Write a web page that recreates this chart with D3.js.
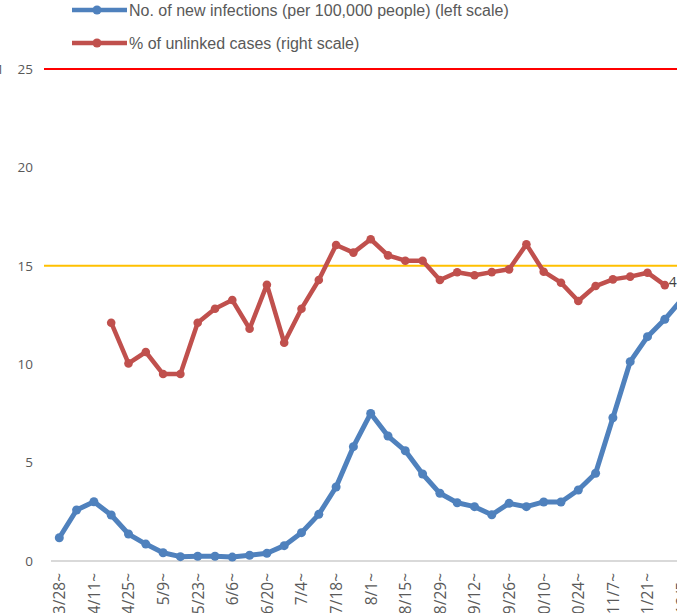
<!DOCTYPE html>
<html>
<head>
<meta charset="utf-8">
<script src="https://cdn.jsdelivr.net/npm/d3@7"></script>
<style>
  body { margin: 0; background: #fff; overflow: hidden; }
  svg { display: block; }
</style>
</head>
<body>
<div id="chart"></div>
<script>
// weekly periods (start date of each week)
const weeks = [
  "3/28", "4/4", "4/11", "4/18", "4/25", "5/2", "5/9", "5/16", "5/23", "5/30",
  "6/6", "6/13", "6/20", "6/27", "7/4", "7/11", "7/18", "7/25", "8/1", "8/8",
  "8/15", "8/22", "8/29", "9/5", "9/12", "9/19", "9/26", "10/3", "10/10", "10/17",
  "10/24", "10/31", "11/7", "11/14", "11/21", "11/28", "12/5"
];

// new infections per 100,000 people (left scale)
const newInfections = [
  1.18, 2.59, 3.01, 2.34, 1.37, 0.86, 0.42, 0.22, 0.24, 0.24,
  0.20, 0.29, 0.39, 0.78, 1.44, 2.37, 3.76, 5.81, 7.50, 6.35,
  5.60, 4.42, 3.44, 2.96, 2.76, 2.35, 2.93, 2.76, 3.00, 3.00,
  3.61, 4.46, 7.28, 10.13, 11.40, 12.28, 13.30
];

// % of unlinked cases (right scale)
const unlinked = [
  null, null, null, 12.11, 10.04, 10.62, 9.50, 9.50, 12.11, 12.82,
  13.26, 11.80, 14.04, 11.09, 12.82, 14.28, 16.06, 15.67, 16.35, 15.53,
  15.26, 15.26, 14.28, 14.67, 14.52, 14.68, 14.82, 16.09, 14.70, 14.14,
  13.21, 13.97, 14.31, 14.45, 14.65, 14.02, null
];

const yTicks = [0, 5, 10, 15, 20, 25];
const redLevel = 25;
const yellowLevel = 15;

const width = 677, height = 613;
const blue = "#4F81BD", red = "#C0504D";
const axisFont = "'Open Sans', 'Noto Sans', sans-serif";

const svg = d3.select("#chart").append("svg")
  .attr("width", width).attr("height", height);

const x = d3.scalePoint().domain(d3.range(weeks.length))
  .range([59.3, 59.3 + (weeks.length - 1) * 17.3]);
const y = d3.scaleLinear().domain([0, 25]).range([561, 69]);

// left axis labels
svg.append("g").attr("transform", "translate(33,0)")
  .call(d3.axisLeft(y).tickValues(yTicks).tickSize(0).tickPadding(0))
  .call(g => g.select(".domain").remove())
  .call(g => g.selectAll(".tick text")
    .attr("fill", "#595959").attr("font-size", 13.5).attr("font-family", axisFont));

// cut-off label fragment at the left edge
svg.append("text").attr("x", 4).attr("y", y(25)).attr("dy", "0.35em")
  .attr("text-anchor", "end").attr("fill", "#595959")
  .attr("font-size", 13.5).attr("font-family", axisFont).text("1");

// baseline
svg.append("line")
  .attr("x1", 51).attr("x2", width).attr("y1", y(0)).attr("y2", y(0))
  .attr("stroke", "#D9D9D9").attr("stroke-width", 2);

// threshold lines
svg.append("line")
  .attr("x1", 44).attr("x2", width).attr("y1", y(redLevel)).attr("y2", y(redLevel))
  .attr("stroke", "#FF0000").attr("stroke-width", 2);
svg.append("line")
  .attr("x1", 44).attr("x2", width).attr("y1", y(yellowLevel)).attr("y2", y(yellowLevel))
  .attr("stroke", "#FFC000").attr("stroke-width", 2);

// x axis labels, every other week
svg.append("g").attr("transform", `translate(0,${y(0)})`)
  .call(d3.axisBottom(x).tickValues(d3.range(0, weeks.length, 2)).tickSize(0)
    .tickFormat(i => weeks[i] + "~"))
  .call(g => g.select(".domain").remove())
  .call(g => g.selectAll(".tick text")
    .attr("transform", "rotate(-90)")
    .attr("text-anchor", "end")
    .attr("x", -12).attr("y", 0).attr("dy", "0.35em")
    .attr("fill", "#595959").attr("font-size", 15.5).attr("font-family", axisFont));

function drawSeries(values, color, lw, r) {
  const pts = values.map((v, i) => ({ i, v })).filter(d => d.v != null);
  svg.append("path").datum(pts)
    .attr("fill", "none").attr("stroke", color).attr("stroke-width", lw)
    .attr("stroke-linejoin", "round")
    .attr("d", d3.line().x(d => x(d.i)).y(d => y(d.v)));
  svg.append("g").selectAll("circle").data(pts).join("circle")
    .attr("cx", d => x(d.i)).attr("cy", d => y(d.v)).attr("r", r).attr("fill", color);
  return pts;
}

drawSeries(newInfections, blue, 5, 4.5);
const redPts = drawSeries(unlinked, red, 4.5, 4.3);

// data label of the last unlinked value (cut off)
const last = redPts[redPts.length - 1];
svg.append("text").attr("x", x(last.i) + 4).attr("y", y(last.v) - 3).attr("dy", "0.35em")
  .attr("fill", "#404040").attr("font-size", 14).attr("font-family", axisFont).text("4");

// legend
const legendItems = [
  { label: "No. of new infections (per 100,000 people) (left scale)", color: blue, y: 10 },
  { label: "% of unlinked cases (right scale)", color: red, y: 43 }
];
const lg = svg.append("g");
legendItems.forEach(item => {
  lg.append("line").attr("x1", 72).attr("x2", 127).attr("y1", item.y).attr("y2", item.y)
    .attr("stroke", item.color).attr("stroke-width", 4.5);
  lg.append("circle").attr("cx", 97).attr("cy", item.y).attr("r", 4.5).attr("fill", item.color);
  lg.append("text").attr("x", 129).attr("y", item.y).attr("dy", "0.35em")
    .attr("fill", "#595959").attr("font-size", 16)
    .attr("font-family", "'Liberation Sans', Arial, sans-serif").text(item.label);
});
</script>
</body>
</html>
